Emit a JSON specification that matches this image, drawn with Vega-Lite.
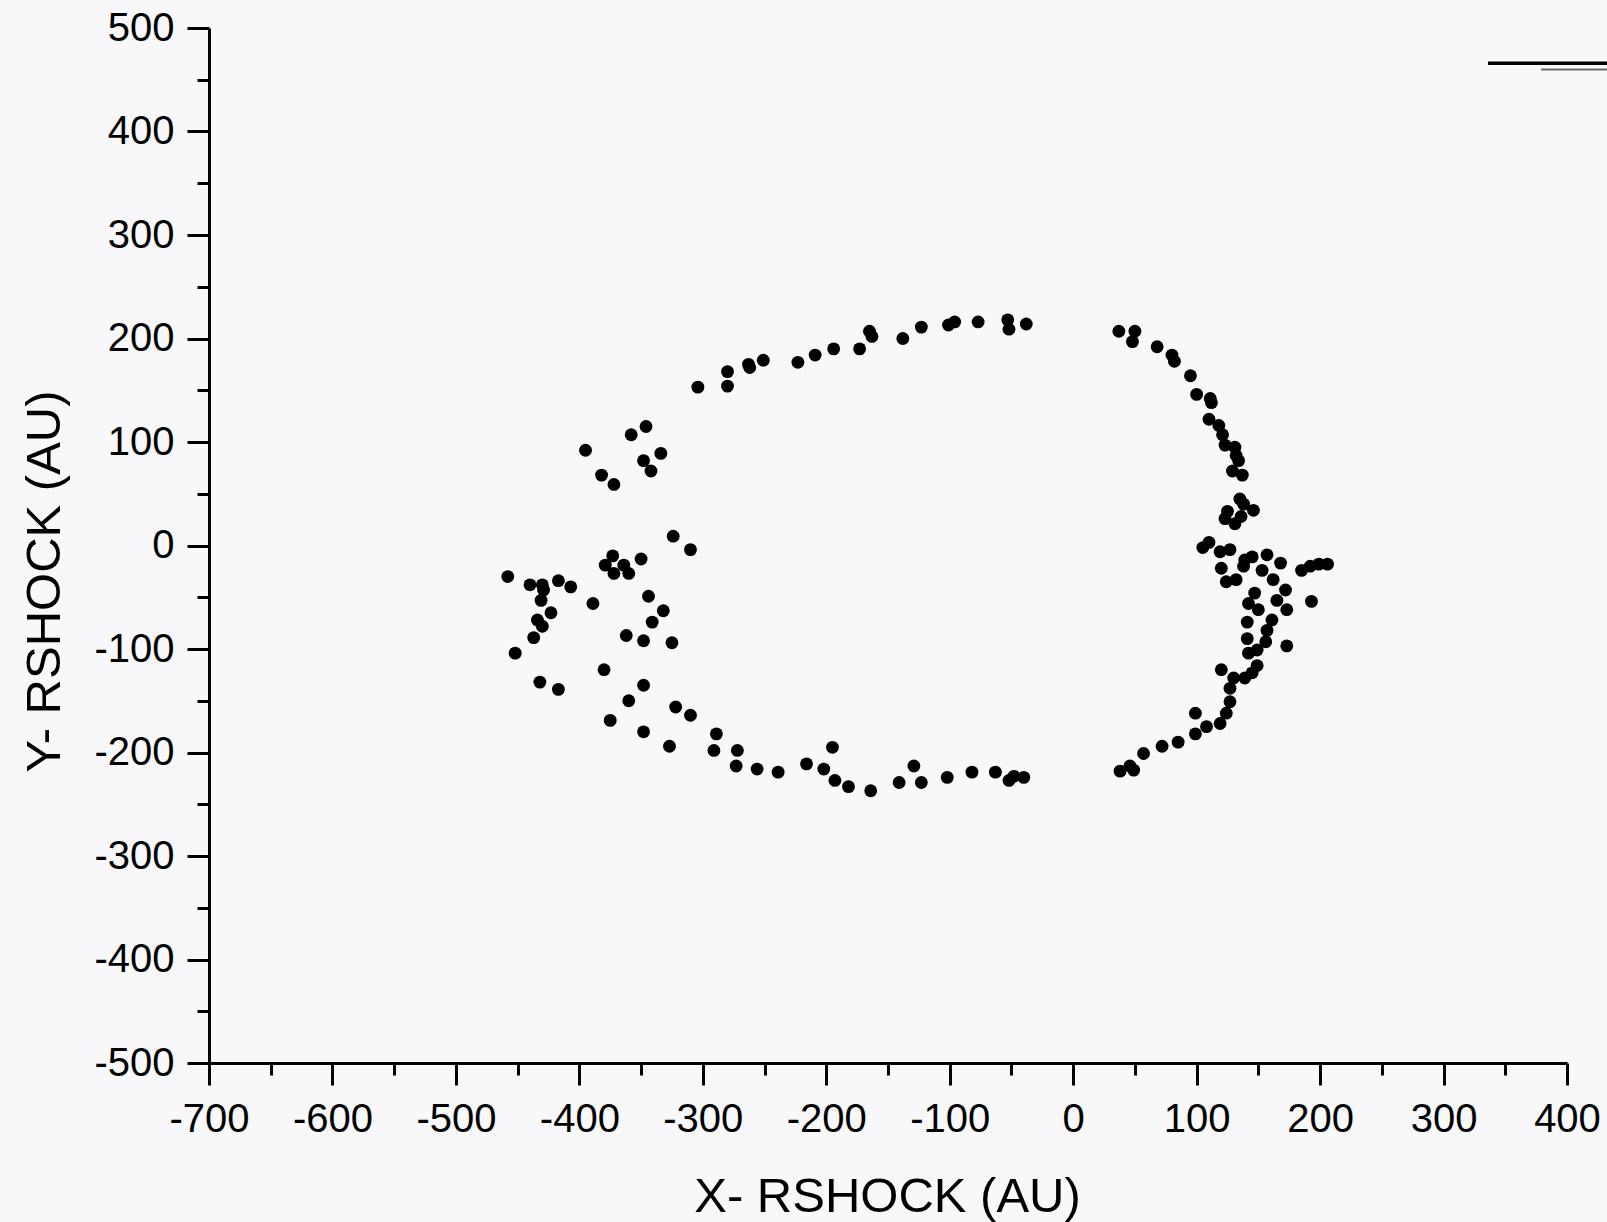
{
  "$schema": "https://vega.github.io/schema/vega-lite/v6.json",
  "autosize": {"type": "none"},
  "padding": {"left": 209, "top": 28, "right": 40, "bottom": 159},
  "width": 1358,
  "height": 1035,
  "background": "#f8f8fa",
  "config": {
    "view": {"stroke": null},
    "axis": {
      "domainColor": "#000000",
      "domainWidth": 3,
      "tickColor": "#000000",
      "tickWidth": 3,
      "labelColor": "#000000",
      "labelFont": "Liberation Sans",
      "labelFontSize": 40,
      "labelFlush": false,
      "titleFont": "Liberation Sans",
      "titleFontSize": 49,
      "titleFontWeight": "normal",
      "titleColor": "#000000",
      "grid": false,
      "labelOverlap": false
    }
  },
  "datasets": {
    "points": [
      {"x": -395, "y": 92}, {"x": -358, "y": 107}, {"x": -346, "y": 115}, {"x": -334, "y": 89}, {"x": -348, "y": 82},
      {"x": -342, "y": 72}, {"x": -382, "y": 68}, {"x": -372, "y": 59}, {"x": -324, "y": 9}, {"x": -310, "y": -4},
      {"x": -373, "y": -10}, {"x": -379, "y": -19}, {"x": -372, "y": -27}, {"x": -364, "y": -19}, {"x": -360, "y": -27},
      {"x": -350, "y": -13}, {"x": -458, "y": -30}, {"x": -440, "y": -38}, {"x": -430, "y": -38}, {"x": -429, "y": -43},
      {"x": -431, "y": -53}, {"x": -417, "y": -34}, {"x": -407, "y": -40}, {"x": -389, "y": -56}, {"x": -344, "y": -49},
      {"x": -332, "y": -63}, {"x": -341, "y": -74}, {"x": -423, "y": -65}, {"x": -434, "y": -72}, {"x": -430, "y": -78},
      {"x": -437, "y": -89}, {"x": -452, "y": -104}, {"x": -362, "y": -87}, {"x": -348, "y": -92}, {"x": -325, "y": -94},
      {"x": -380, "y": -120}, {"x": -432, "y": -132}, {"x": -417, "y": -139}, {"x": -348, "y": -135}, {"x": -360, "y": -150},
      {"x": -322, "y": -156}, {"x": -310, "y": -164}, {"x": -375, "y": -169}, {"x": -348, "y": -180}, {"x": -327, "y": -194},
      {"x": -289, "y": -182}, {"x": -291, "y": -198}, {"x": -272, "y": -198}, {"x": -273, "y": -213},
      {"x": -256, "y": -216}, {"x": -239, "y": -219}, {"x": -216, "y": -211}, {"x": -195, "y": -195}, {"x": -202, "y": -216},
      {"x": -193, "y": -227}, {"x": -182, "y": -233}, {"x": -164, "y": -237}, {"x": -141, "y": -229}, {"x": -129, "y": -213},
      {"x": -123, "y": -229}, {"x": -102, "y": -224}, {"x": -82, "y": -219}, {"x": -63, "y": -219}, {"x": -52, "y": -227},
      {"x": -48, "y": -223}, {"x": -40, "y": -224}, {"x": 38, "y": -218}, {"x": 46, "y": -213}, {"x": 49, "y": -217},
      {"x": 57, "y": -201},
      {"x": 72, "y": -194}, {"x": 85, "y": -190}, {"x": 99, "y": -182}, {"x": 99, "y": -162}, {"x": 108, "y": -175},
      {"x": 119, "y": -172}, {"x": 124, "y": -162}, {"x": 127, "y": -151}, {"x": 127, "y": -138}, {"x": 130, "y": -128},
      {"x": 139, "y": -128}, {"x": 145, "y": -123}, {"x": 149, "y": -116}, {"x": 120, "y": -120}, {"x": 142, "y": -104},
      {"x": 149, "y": -101}, {"x": 141, "y": -90}, {"x": 156, "y": -93}, {"x": 173, "y": -97}, {"x": 157, "y": -82},
      {"x": 161, "y": -72}, {"x": 141, "y": -74}, {"x": 142, "y": -56}, {"x": 150, "y": -62}, {"x": 147, "y": -46},
      {"x": 165, "y": -53}, {"x": 173, "y": -62}, {"x": 172, "y": -43}, {"x": 162, "y": -33}, {"x": 153, "y": -24},
      {"x": 168, "y": -17}, {"x": 157, "y": -9}, {"x": 145, "y": -11}, {"x": 139, "y": -14}, {"x": 138, "y": -20},
      {"x": 132, "y": -33}, {"x": 124, "y": -35}, {"x": 120, "y": -22}, {"x": 119, "y": -6}, {"x": 127, "y": -4},
      {"x": 105, "y": -2}, {"x": 110, "y": 3}, {"x": 193, "y": -54}, {"x": 185, "y": -24}, {"x": 192, "y": -20},
      {"x": 199, "y": -18}, {"x": 206, "y": -18},
      {"x": 37, "y": 207}, {"x": 50, "y": 207}, {"x": 48, "y": 197}, {"x": 68, "y": 192}, {"x": 80, "y": 184},
      {"x": 82, "y": 178}, {"x": 95, "y": 164}, {"x": 100, "y": 146}, {"x": 111, "y": 142}, {"x": 112, "y": 138},
      {"x": 110, "y": 122}, {"x": 118, "y": 116}, {"x": 121, "y": 107}, {"x": 123, "y": 97}, {"x": 131, "y": 95},
      {"x": 132, "y": 87}, {"x": 134, "y": 82}, {"x": 129, "y": 72}, {"x": 137, "y": 68}, {"x": 135, "y": 45},
      {"x": 138, "y": 40}, {"x": 146, "y": 34}, {"x": 125, "y": 33}, {"x": 123, "y": 26}, {"x": 131, "y": 21},
      {"x": 136, "y": 28},
      {"x": -304, "y": 153}, {"x": -280, "y": 168}, {"x": -280, "y": 154}, {"x": -263, "y": 175}, {"x": -262, "y": 172},
      {"x": -251, "y": 179}, {"x": -223, "y": 177}, {"x": -209, "y": 184}, {"x": -194, "y": 190}, {"x": -173, "y": 190},
      {"x": -165, "y": 207}, {"x": -163, "y": 202}, {"x": -138, "y": 200}, {"x": -123, "y": 211}, {"x": -101, "y": 213},
      {"x": -96, "y": 216}, {"x": -77, "y": 216}, {"x": -53, "y": 218}, {"x": -52, "y": 209}, {"x": -38, "y": 214}
    ],
    "legend": [
      {"series": "a", "x": 336, "x2": 440, "y": 466},
      {"series": "b", "x": 379, "x2": 440, "y": 460}
    ]
  },
  "layer": [
    {
      "data": {"name": "points"},
      "mark": {"type": "circle", "size": 165, "opacity": 1, "color": "#000000"},
      "encoding": {
        "x": {
          "field": "x", "type": "quantitative",
          "scale": {"domain": [-700, 400], "nice": false, "zero": false},
          "axis": {
            "orient": "bottom",
            "values": [-700, -600, -500, -400, -300, -200, -100, 0, 100, 200, 300, 400],
            "tickSize": 22,
            "labelPadding": 14,
            "labelExpr": "'' + datum.value",
            "title": "X- RSHOCK (AU)",
            "titleX": 678,
            "titleY": 133,
            "titleBaseline": "middle",
            "titleAlign": "center"
          }
        },
        "y": {
          "field": "y", "type": "quantitative",
          "scale": {"domain": [-500, 500], "nice": false, "zero": false},
          "axis": {
            "orient": "left",
            "values": [-500, -400, -300, -200, -100, 0, 100, 200, 300, 400, 500],
            "tickSize": 22,
            "labelPadding": 13,
            "labelExpr": "'' + datum.value",
            "title": "Y- RSHOCK (AU)",
            "titleAngle": -90,
            "titleX": -165,
            "titleY": 553,
            "titleBaseline": "middle",
            "titleAlign": "center"
          }
        }
      }
    },
    {
      "data": {"name": "legend"},
      "mark": {"type": "rule", "clip": false},
      "encoding": {
        "x": {
          "field": "x", "type": "quantitative",
          "scale": {"domain": [-700, 400], "nice": false, "zero": false},
          "axis": {
            "orient": "bottom",
            "values": [-650, -550, -450, -350, -250, -150, -50, 50, 150, 250, 350],
            "tickSize": 12,
            "labels": false,
            "domain": false,
            "title": null
          }
        },
        "x2": {"field": "x2"},
        "y": {
          "field": "y", "type": "quantitative",
          "scale": {"domain": [-500, 500], "nice": false, "zero": false},
          "axis": {
            "orient": "left",
            "values": [-450, -350, -250, -150, -50, 50, 150, 250, 350, 450],
            "tickSize": 12,
            "labels": false,
            "domain": false,
            "title": null
          }
        },
        "color": {
          "field": "series", "type": "nominal",
          "scale": {"domain": ["a", "b"], "range": ["#000000", "#666666"]},
          "legend": null
        },
        "strokeWidth": {
          "field": "series", "type": "nominal",
          "scale": {"domain": ["a", "b"], "range": [3.5, 2]},
          "legend": null
        }
      }
    }
  ],
  "resolve": {"axis": {"x": "independent", "y": "independent"}}
}
